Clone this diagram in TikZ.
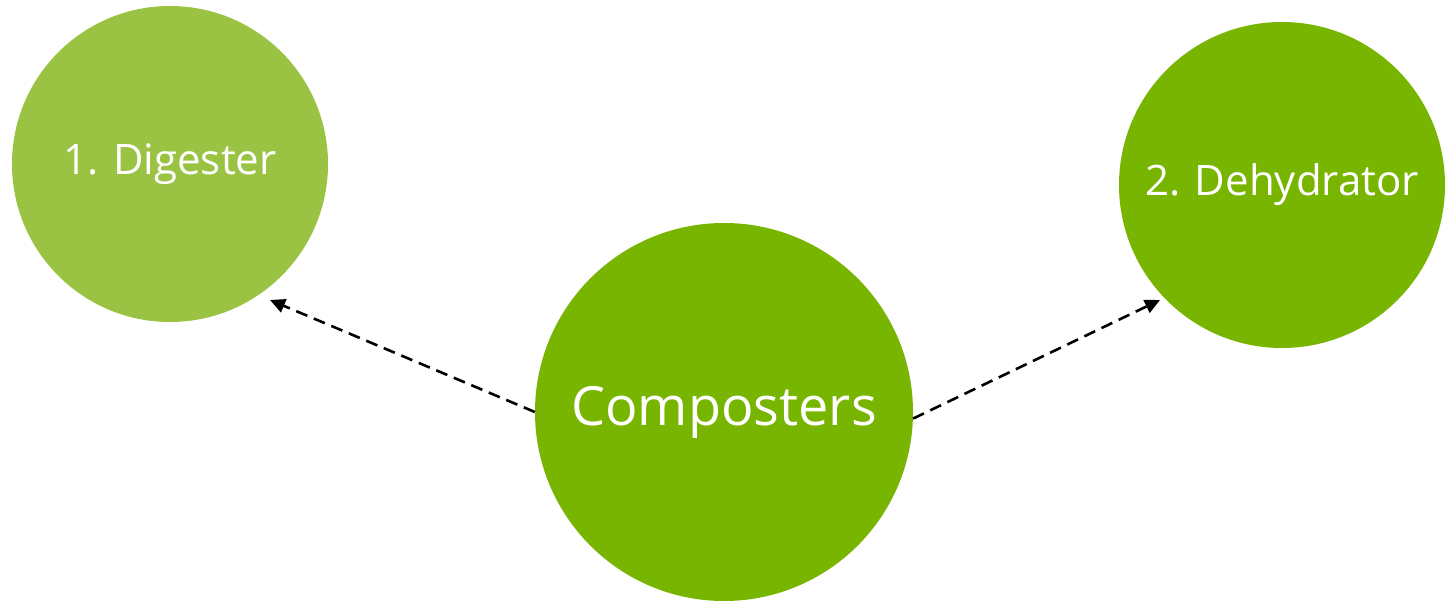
\documentclass[tikz,border=0pt]{standalone}
\usepackage{fontspec}
\setmainfont{Open Sans}
\usetikzlibrary{arrows.meta}
\definecolor{lightgreen}{HTML}{9BC343}
\definecolor{darkgreen}{HTML}{78B500}
\begin{document}
\begin{tikzpicture}[x=1pt,y=1pt,
  bubble/.style={circle,inner sep=0pt,text=white,draw=none},
  link/.style={line width=2.6pt,dash pattern=on 12pt off 7pt,black,-{Triangle[length=15pt,width=14pt]}}]
\useasboundingbox (0,0) rectangle (1445,600);
\fill[white] (0,0) rectangle (1445,600);
\node[bubble,fill=lightgreen,minimum size=316pt,font=\fontsize{42}{48}\selectfont] (dig) at (170,436) {1. Digester};
\node[bubble,fill=darkgreen,minimum size=326pt,font=\fontsize{42}{48}\selectfont] (deh) at (1282,415) {2. Dehydrator};
\node[bubble,fill=darkgreen,minimum size=378pt,font=\fontsize{54}{62}\selectfont] (comp) at (724,188) {Composters};
\coordinate (t1) at (270,300);
\coordinate (t2) at (1160,300);
\draw[link] (comp.180) -- (t1);
\draw[link] (comp.-2.5) -- (t2);
\end{tikzpicture}
\end{document}
